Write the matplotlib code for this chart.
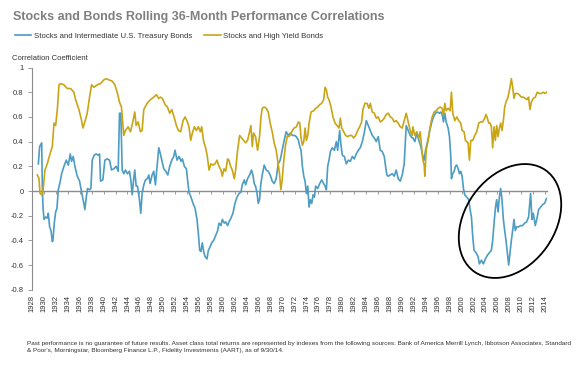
import matplotlib
matplotlib.use('Agg')
import matplotlib.pyplot as plt
from matplotlib.patches import Ellipse
from matplotlib.lines import Line2D

plt.rcParams['font.family'] = ['Liberation Sans', 'DejaVu Sans']

# Stocks and Intermediate U.S. Treasury Bonds (rolling 36-month correlation)
treasury_years = [
    1929.06, 1929.28, 1929.62, 1929.73, 1929.84, 1930.01, 1930.29, 1930.56, 1930.73, 1930.95,
    1931.18, 1931.40, 1931.51, 1931.73, 1931.96, 1932.18, 1932.40, 1932.74, 1932.96, 1933.35,
    1933.74, 1934.08, 1934.41, 1934.63, 1934.91, 1935.19, 1935.58, 1935.97, 1936.31, 1936.64,
    1936.86, 1937.09, 1937.31, 1937.64, 1937.87, 1938.09, 1938.42, 1938.76, 1939.09, 1939.32,
    1939.48, 1939.87, 1940.21, 1940.60, 1940.99, 1941.32, 1941.71, 1942.10, 1942.44, 1942.66,
    1942.88, 1943.11, 1943.38, 1943.66, 1944.00, 1944.33, 1944.56, 1944.78, 1945.00, 1945.22,
    1945.45, 1945.67, 1946.00, 1946.23, 1946.45, 1946.73, 1947.01, 1947.34, 1947.57, 1947.79,
    1948.12, 1948.40, 1948.68, 1948.96, 1949.24, 1949.57,
    1949.74, 1950.08, 1950.41, 1950.75, 1951.08, 1951.42, 1951.75, 1951.97, 1952.31, 1952.64,
    1952.98, 1953.20, 1953.53, 1953.87, 1954.09, 1954.31, 1954.65, 1954.98, 1955.32, 1955.65,
    1955.87, 1956.10, 1956.32, 1956.54, 1956.77, 1956.99, 1957.32, 1957.55, 1957.77, 1958.10,
    1958.44, 1958.77, 1959.11, 1959.33, 1959.67, 1959.89, 1960.22, 1960.45, 1960.78, 1961.00,
    1961.34, 1961.67, 1962.01, 1962.34, 1962.68, 1963.01, 1963.23, 1963.57, 1963.79, 1964.12,
    1964.46, 1964.79, 1965.02, 1965.24, 1965.46, 1965.69, 1965.91, 1966.13, 1966.35, 1966.58,
    1966.91, 1967.25, 1967.58, 1967.91, 1968.25, 1968.58, 1968.92, 1969.25, 1969.59, 1969.92,
    1970.26, 1970.59,
    1970.97, 1971.31, 1971.64, 1971.98, 1972.31, 1972.65, 1972.87, 1973.09, 1973.31, 1973.54,
    1973.76, 1973.98, 1974.21, 1974.43, 1974.65, 1974.88, 1975.10, 1975.32, 1975.54, 1975.88,
    1976.21, 1976.55, 1976.88, 1977.10, 1977.33, 1977.55, 1977.77, 1978.00, 1978.33, 1978.67,
    1979.00, 1979.22, 1979.56, 1979.78, 1980.00, 1980.34, 1980.67, 1981.01, 1981.34, 1981.68,
    1982.01, 1982.34, 1982.68, 1983.01, 1983.35, 1983.68, 1984.02, 1984.35, 1984.69, 1985.02,
    1985.36, 1985.69, 1986.02, 1986.36, 1986.69, 1987.03, 1987.25, 1987.47, 1987.70, 1988.03,
    1988.36, 1988.70, 1989.03, 1989.37, 1989.70, 1990.04, 1990.37, 1990.71, 1991.04, 1991.38,
    1991.71,
    1991.83, 1992.16, 1992.49, 1992.83, 1993.16, 1993.50, 1993.72, 1993.94, 1994.28, 1994.61,
    1994.95, 1995.28, 1995.62, 1995.95, 1996.29, 1996.51, 1996.73, 1996.95, 1997.18, 1997.40,
    1997.73, 1997.96, 1998.18, 1998.29, 1998.51, 1998.74, 1998.96, 1999.18, 1999.41, 1999.63,
    1999.85, 2000.08, 2000.30, 2000.52, 2000.86, 2001.19, 2001.41, 2001.64, 2001.86, 2002.08,
    2002.42, 2002.75, 2002.97, 2003.31, 2003.64, 2003.98, 2004.31, 2004.65, 2004.98, 2005.20,
    2005.43, 2005.65, 2005.87, 2006.10, 2006.32, 2006.54, 2006.76, 2006.99, 2007.21, 2007.43,
    2007.66, 2007.88, 2008.10, 2008.33, 2008.55, 2008.77, 2008.99, 2009.22, 2009.55, 2009.89,
    2010.22, 2010.56, 2010.89, 2011.22, 2011.56, 2011.78, 2012.00, 2012.34, 2012.67, 2012.90,
    2013.23, 2013.57, 2013.90, 2014.23,
]
treasury_corr = [
    0.22, 0.36, 0.39, 0.03, -0.13, -0.23, -0.21, -0.22, -0.18, -0.29,
    -0.32, -0.41, -0.40, -0.26, -0.17, -0.14, 0.01, 0.08, 0.14, 0.20,
    0.25, 0.21, 0.30, 0.24, 0.28, 0.20, 0.12, 0.08, -0.01, -0.09,
    -0.15, -0.05, 0.02, 0.01, 0.02, 0.25, 0.29, 0.30, 0.29, 0.30,
    0.08, 0.09, 0.25, 0.26, 0.25, 0.17, 0.18, 0.20, 0.16, 0.63,
    0.63, 0.17, 0.14, 0.17, 0.14, 0.16, 0.09, -0.03, 0.08, 0.17,
    0.04, 0.04, -0.07, -0.18, -0.02, 0.05, 0.09, 0.10, 0.13, 0.06,
    0.13, 0.16, 0.05, 0.20, 0.35, 0.29,
    0.25, 0.18, 0.16, 0.13, 0.20, 0.25, 0.28, 0.33, 0.25, 0.28,
    0.24, 0.26, 0.20, 0.18, 0.08, -0.01, -0.05, -0.10, -0.14, -0.23,
    -0.34, -0.48, -0.49, -0.42, -0.49, -0.53, -0.55, -0.48, -0.46, -0.42,
    -0.40, -0.36, -0.32, -0.26, -0.28, -0.23, -0.26, -0.25, -0.28, -0.25,
    -0.22, -0.18, -0.10, -0.05, -0.02, -0.01, 0.05, 0.09, 0.05, 0.10,
    0.13, 0.17, 0.13, 0.06, 0.04, -0.01, -0.10, -0.07, 0.06, 0.13,
    0.21, 0.17, 0.16, 0.13, 0.08, 0.06, 0.10, 0.22, 0.25, 0.33,
    0.41, 0.48,
    0.45, 0.47, 0.45, 0.45, 0.44, 0.41, 0.36, 0.33, 0.20, 0.12,
    0.08, -0.02, 0.04, -0.13, -0.07, -0.10, -0.03, -0.05, 0.04, 0.02,
    0.06, 0.09, 0.06, 0.04, 0.01, 0.20, 0.25, 0.32, 0.35, 0.33,
    0.40, 0.33, 0.49, 0.37, 0.29, 0.28, 0.22, 0.25, 0.24, 0.28,
    0.26, 0.30, 0.33, 0.35, 0.40, 0.47, 0.57, 0.53, 0.49, 0.45,
    0.43, 0.40, 0.44, 0.33, 0.32, 0.28, 0.20, 0.13, 0.12, 0.13,
    0.14, 0.12, 0.17, 0.10, 0.08, 0.13, 0.22, 0.53, 0.49, 0.45,
    0.43,
    0.43, 0.40, 0.47, 0.41, 0.36, 0.28, 0.25, 0.33, 0.40, 0.48,
    0.55, 0.60, 0.63, 0.64, 0.63, 0.64, 0.62, 0.56, 0.63, 0.56,
    0.51, 0.44, 0.28, 0.10, 0.14, 0.16, 0.20, 0.21, 0.18, 0.14,
    0.16, 0.12, 0.02, -0.03, -0.05, -0.07, -0.15, -0.21, -0.37, -0.48,
    -0.50, -0.53, -0.59, -0.56, -0.59, -0.55, -0.52, -0.50, -0.48, -0.40,
    -0.26, -0.14, -0.07, -0.17, -0.05, 0.02, -0.07, -0.23, -0.32, -0.40,
    -0.50, -0.60, -0.50, -0.40, -0.32, -0.23, -0.32, -0.29, -0.29, -0.28,
    -0.28, -0.26, -0.25, -0.21, -0.02, -0.23, -0.18, -0.28, -0.21, -0.15,
    -0.13, -0.11, -0.10, -0.06,
]

# Stocks and High Yield Bonds (rolling 36-month correlation)
high_yield_years = [
    1928.89, 1929.17, 1929.34, 1929.62, 1929.84, 1930.17, 1930.56, 1930.95, 1931.40, 1931.68,
    1931.96, 1932.24, 1932.52, 1932.79, 1933.35, 1933.91, 1934.47, 1935.02, 1935.30, 1935.86,
    1936.31, 1936.53, 1936.86, 1937.25, 1937.64, 1937.98, 1938.37, 1938.93, 1939.48, 1940.04,
    1940.43, 1940.88, 1941.43, 1941.88, 1942.27, 1942.66, 1942.99, 1943.22, 1943.38, 1943.66,
    1944.11, 1944.50, 1944.89, 1945.22, 1945.45, 1945.78, 1946.17, 1946.45, 1946.73, 1947.29,
    1947.84, 1948.40, 1948.85, 1949.24, 1949.57,
    1949.85, 1950.30, 1950.69, 1951.08, 1951.42, 1951.81, 1952.20, 1952.53, 1952.92, 1953.31,
    1953.65, 1954.04, 1954.31, 1954.59, 1954.87, 1955.21, 1955.54, 1955.87, 1956.21, 1956.43,
    1956.77, 1957.10, 1957.38, 1957.66, 1957.99, 1958.33, 1958.66, 1959.00, 1959.33, 1959.67,
    1959.89, 1960.17, 1960.45, 1960.78, 1961.00, 1961.28, 1961.56, 1961.90, 1962.12, 1962.45,
    1962.79, 1963.12, 1963.46, 1963.79, 1964.12, 1964.46, 1964.68, 1964.91, 1965.13, 1965.46,
    1965.80, 1966.13, 1966.35, 1966.58, 1966.91, 1967.25, 1967.58, 1967.91, 1968.25, 1968.58,
    1968.92, 1969.25, 1969.48, 1969.70, 1969.92, 1970.20, 1970.48,
    1970.81, 1971.08, 1971.53, 1971.92, 1972.31, 1972.65, 1972.87, 1973.09, 1973.31, 1973.54,
    1973.76, 1973.98, 1974.21, 1974.43, 1974.76, 1975.21, 1975.54, 1975.88, 1976.21, 1976.55,
    1976.88, 1977.10, 1977.33, 1977.55, 1977.77, 1978.11, 1978.44, 1978.78, 1979.11, 1979.45,
    1979.67, 1979.89, 1980.23, 1980.56, 1980.90, 1981.23, 1981.56, 1981.90, 1982.23, 1982.57,
    1982.90, 1983.24, 1983.46, 1983.79, 1984.13, 1984.46, 1984.69, 1985.02, 1985.36, 1985.69,
    1986.02, 1986.36, 1986.69, 1987.03, 1987.36, 1987.70, 1988.03, 1988.36, 1988.70, 1989.03,
    1989.37, 1989.70, 1990.04, 1990.37, 1990.71, 1991.04, 1991.38, 1991.71,
    1991.83, 1992.16, 1992.49, 1992.83, 1993.05, 1993.28, 1993.50, 1993.72, 1993.83, 1994.06,
    1994.39, 1994.72, 1995.06, 1995.39, 1995.73, 1996.06, 1996.40, 1996.73, 1996.95, 1997.18,
    1997.40, 1997.73, 1998.07, 1998.29, 1998.51, 1998.85, 1999.18, 1999.52, 1999.85, 2000.08,
    2000.41, 2000.63, 2000.86, 2001.08, 2001.30, 2001.53, 2001.86, 2002.19, 2002.53, 2002.86,
    2003.20, 2003.53, 2003.87, 2004.09, 2004.31, 2004.54, 2004.76, 2004.98, 2005.20, 2005.43,
    2005.65, 2005.87, 2006.10, 2006.32, 2006.54, 2006.76, 2006.99, 2007.21, 2007.43, 2007.77,
    2008.10, 2008.33, 2008.55, 2008.77, 2008.99, 2009.33, 2009.66, 2010.00, 2010.33, 2010.67,
    2011.00, 2011.22, 2011.45, 2011.67, 2012.00, 2012.34, 2012.67, 2013.01, 2013.34, 2013.68,
    2014.01, 2014.23,
]
high_yield_corr = [
    0.13, 0.10, -0.02, -0.03, 0.00, 0.17, 0.22, 0.29, 0.36, 0.55,
    0.53, 0.66, 0.86, 0.87, 0.86, 0.83, 0.83, 0.80, 0.74, 0.66,
    0.57, 0.51, 0.56, 0.63, 0.76, 0.86, 0.84, 0.86, 0.87, 0.90,
    0.91, 0.90, 0.89, 0.86, 0.80, 0.72, 0.68, 0.55, 0.45, 0.49,
    0.52, 0.48, 0.56, 0.64, 0.53, 0.56, 0.48, 0.49, 0.66, 0.71,
    0.74, 0.76, 0.78, 0.75, 0.76,
    0.75, 0.70, 0.68, 0.63, 0.66, 0.60, 0.53, 0.49, 0.48, 0.57,
    0.60, 0.56, 0.52, 0.41, 0.47, 0.52, 0.49, 0.52, 0.48, 0.52,
    0.40, 0.35, 0.28, 0.17, 0.22, 0.21, 0.22, 0.25, 0.20, 0.17,
    0.12, 0.18, 0.16, 0.26, 0.25, 0.20, 0.17, 0.10, 0.17, 0.33,
    0.45, 0.43, 0.41, 0.39, 0.41, 0.48, 0.53, 0.36, 0.47, 0.44,
    0.33, 0.44, 0.59, 0.67, 0.68, 0.67, 0.64, 0.55, 0.48, 0.39,
    0.33, 0.22, 0.14, 0.01, 0.09, 0.25, 0.37,
    0.45, 0.44, 0.48, 0.51, 0.52, 0.56, 0.55, 0.43, 0.37, 0.40,
    0.51, 0.41, 0.45, 0.55, 0.64, 0.65, 0.67, 0.68, 0.70, 0.71,
    0.74, 0.84, 0.82, 0.76, 0.74, 0.68, 0.60, 0.55, 0.53, 0.51,
    0.59, 0.51, 0.48, 0.45, 0.44, 0.45, 0.45, 0.43, 0.45, 0.49,
    0.52, 0.56, 0.66, 0.71, 0.71, 0.67, 0.71, 0.64, 0.63, 0.59,
    0.60, 0.56, 0.57, 0.59, 0.62, 0.63, 0.60, 0.59, 0.56, 0.57,
    0.55, 0.52, 0.51, 0.57, 0.63, 0.56, 0.49, 0.45,
    0.52, 0.45, 0.48, 0.43, 0.48, 0.36, 0.25, 0.21, 0.12, 0.33,
    0.41, 0.52, 0.60, 0.64, 0.65, 0.67, 0.68, 0.67, 0.61, 0.71,
    0.65, 0.67, 0.65, 0.80, 0.63, 0.57, 0.60, 0.57, 0.55, 0.49,
    0.48, 0.41, 0.40, 0.39, 0.25, 0.41, 0.41, 0.45, 0.48, 0.55,
    0.56, 0.56, 0.59, 0.62, 0.59, 0.55, 0.55, 0.52, 0.35, 0.52,
    0.41, 0.53, 0.44, 0.51, 0.55, 0.49, 0.57, 0.68, 0.72, 0.76,
    0.84, 0.91, 0.84, 0.75, 0.79, 0.79, 0.78, 0.76, 0.76, 0.75,
    0.74, 0.76, 0.66, 0.72, 0.75, 0.76, 0.80, 0.79, 0.79, 0.80,
    0.79, 0.80,
]

tick_years = list(range(1928, 2015, 2))
y_ticks = [-0.8, -0.6, -0.4, -0.2, 0, 0.2, 0.4, 0.6, 0.8, 1]
y_labels = ['-0.8', '-0.6', '-0.4', '-0.2', '0', '0.2', '0.4', '0.6', '0.8', '1']

blue = '#4c9cc3'
gold = '#c9a516'
axis_grey = '#8c8c8c'
text_dark = '#333333'

fig = plt.figure(figsize=(5.79, 3.65), dpi=100)
ax = fig.add_axes([0.0553, 0.206, 0.8894, 0.609])

ax.plot(treasury_years, treasury_corr, color=blue, lw=1.2, zorder=3)
ax.plot(high_yield_years, high_yield_corr, color=gold, lw=1.2, zorder=3)

ax.set_xlim(1928, 2014.3)
ax.set_ylim(-0.8, 1)

# y axis
ax.set_yticks(y_ticks)
ax.set_yticklabels(y_labels)
ax.tick_params(axis='y', direction='out', length=3, width=0.6, color=axis_grey,
               labelsize=5.5, labelcolor=text_dark, pad=3)
for side in ['top', 'right', 'bottom']:
    ax.spines[side].set_visible(False)
ax.spines['left'].set_color(axis_grey)
ax.spines['left'].set_linewidth(0.8)

# year labels at the bottom, no tick marks
ax.set_xticks(tick_years)
ax.set_xticklabels([str(y) for y in tick_years], rotation=90)
ax.tick_params(axis='x', length=0, labelsize=5.5, labelcolor=text_dark, pad=4)

# zero line with its own tick marks
zero_axis = ax.secondary_xaxis(0.8 / 1.8)
zero_axis.set_xticks(tick_years)
zero_axis.set_xticklabels([])
zero_axis.tick_params(direction='out', length=2.5, width=0.6, color=axis_grey)
zero_axis.spines['bottom'].set_color(axis_grey)
zero_axis.spines['bottom'].set_linewidth(1.0)

# circle around the recent period
fig.add_artist(Ellipse((5.10, 1.44), 1.24, 0.90, angle=55, fill=False,
                       edgecolor='black', lw=1.3, transform=fig.dpi_scale_trans))

fig.text(0.0225, 0.953, 'Stocks and Bonds Rolling 36-Month Performance Correlations',
         fontsize=9, fontweight='bold', color='#7f7f7f', va='center', ha='left')

handles = [Line2D([], [], color=blue, lw=1.2), Line2D([], [], color=gold, lw=1.2)]
fig.legend(handles, ['Stocks and Intermediate U.S. Treasury Bonds', 'Stocks and High Yield Bonds'],
           loc='center left', bbox_to_anchor=(0.026, 0.901), ncol=2, frameon=False,
           fontsize=5.6, handlelength=2.1, handletextpad=0.3, columnspacing=1.6,
           borderaxespad=0, borderpad=0, labelcolor=text_dark)

fig.text(0.0207, 0.841, 'Correlation Coefficient', fontsize=5.5, color=text_dark,
         va='center', ha='left')

footnote = ("Past performance is no guarantee of future results. Asset class total returns are represented by "
            "indexes from the following sources: Bank of America Merrill Lynch, Ibbotson Associates, Standard\n"
            "& Poor's, Morningstar, Bloomberg Finance L.P., Fidelity Investments (AART), as of 9/30/14.")
fig.text(0.0466, 0.066, footnote, fontsize=4.55, color=text_dark, va='top', ha='left',
         linespacing=1.6)

fig.savefig('out.png', dpi=100)
